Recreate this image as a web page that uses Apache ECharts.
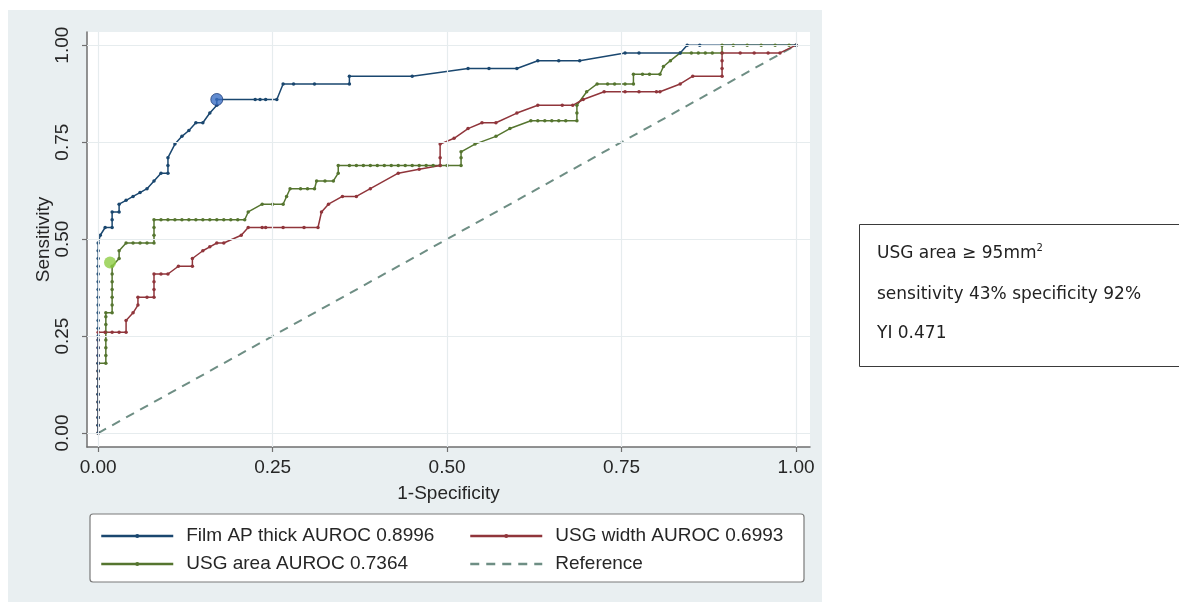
<!DOCTYPE html>
<html>
<head>
<meta charset="utf-8">
<script src="https://cdn.jsdelivr.net/npm/echarts@6/dist/echarts.min.js"></script>
<style>
  html, body { margin: 0; padding: 0; background: #ffffff; }
  #chart { width: 1179px; height: 605px; }
</style>
</head>
<body>
<div id="chart"></div>
<script>
// ROC curves: [1 - specificity, sensitivity]
const filmApThick = [
  [0,0],[0,0.02],[0,0.04],[0,0.06],[0,0.08],[0,0.10],[0,0.12],[0,0.14],[0,0.16],[0,0.18],[0,0.20],[0,0.22],[0,0.24],
  [0,0.25],[0,0.27],[0,0.29],[0,0.31],[0,0.33],[0,0.35],[0,0.37],[0,0.39],[0,0.41],[0,0.43],[0,0.45],[0,0.47],[0,0.49],
  [0.003,0.51],[0.01,0.53],[0.02,0.53],[0.02,0.55],[0.02,0.57],[0.03,0.57],[0.03,0.59],[0.04,0.60],[0.05,0.61],
  [0.06,0.62],[0.07,0.63],[0.08,0.65],[0.09,0.67],[0.10,0.67],[0.10,0.69],[0.10,0.71],[0.11,0.745],[0.12,0.765],
  [0.13,0.78],[0.14,0.80],[0.15,0.80],[0.16,0.825],[0.17,0.845],[0.17,0.86],
  [0.225,0.86],[0.232,0.86],[0.24,0.86],[0.256,0.86],[0.265,0.90],[0.28,0.90],[0.31,0.90],[0.36,0.90],[0.36,0.92],
  [0.45,0.92],[0.53,0.94],[0.56,0.94],[0.60,0.94],[0.63,0.96],[0.66,0.96],[0.69,0.96],[0.755,0.98],[0.775,0.98],
  [0.834,0.98],[0.844,1],[0.862,1],[1,1]
];

const usgWidth = [
  [0,0],[0,0.02],[0,0.04],[0,0.06],[0,0.08],[0,0.10],[0,0.12],[0,0.14],[0,0.16],[0,0.18],[0,0.20],[0,0.22],[0,0.24],[0,0.26],
  [0.01,0.26],[0.02,0.26],[0.03,0.26],[0.04,0.26],[0.04,0.29],[0.05,0.31],[0.057,0.33],[0.057,0.35],[0.07,0.35],
  [0.08,0.35],[0.08,0.37],[0.08,0.39],[0.08,0.41],[0.09,0.41],[0.10,0.41],[0.115,0.43],[0.135,0.43],[0.135,0.45],
  [0.15,0.47],[0.16,0.48],[0.17,0.49],[0.18,0.49],[0.205,0.51],[0.215,0.53],[0.235,0.53],[0.24,0.53],[0.265,0.53],
  [0.295,0.53],[0.315,0.53],[0.32,0.57],[0.33,0.59],[0.35,0.61],[0.37,0.61],[0.39,0.63],[0.43,0.67],[0.46,0.68],
  [0.49,0.69],[0.49,0.71],[0.49,0.745],[0.51,0.76],[0.53,0.785],[0.55,0.80],[0.57,0.80],[0.60,0.825],[0.63,0.845],
  [0.665,0.845],[0.68,0.845],[0.695,0.86],[0.725,0.88],[0.755,0.88],[0.775,0.88],[0.80,0.88],[0.805,0.88],
  [0.834,0.90],[0.852,0.92],[0.894,0.92],[0.894,0.94],[0.894,0.96],[0.894,0.98],[0.92,0.98],[0.94,0.98],
  [0.96,0.98],[0.977,0.98],[1,1]
];

const usgArea = [
  [0,0],[0,0.02],[0,0.04],[0,0.06],[0,0.08],[0,0.10],[0,0.12],[0,0.14],[0,0.16],[0,0.18],
  [0.011,0.18],[0.011,0.20],[0.011,0.22],[0.011,0.24],[0.011,0.26],[0.011,0.28],[0.011,0.30],[0.011,0.31],
  [0.02,0.31],[0.02,0.33],[0.02,0.35],[0.02,0.37],[0.02,0.39],[0.02,0.41],[0.02,0.43],
  [0.03,0.45],[0.03,0.47],[0.04,0.49],[0.05,0.49],[0.06,0.49],[0.07,0.49],[0.08,0.49],[0.08,0.51],[0.08,0.53],[0.08,0.55],
  [0.09,0.55],[0.10,0.55],[0.11,0.55],[0.12,0.55],[0.13,0.55],[0.14,0.55],[0.15,0.55],[0.16,0.55],[0.17,0.55],
  [0.18,0.55],[0.19,0.55],[0.20,0.55],[0.21,0.55],
  [0.215,0.57],[0.235,0.59],[0.25,0.59],[0.265,0.59],[0.27,0.61],[0.275,0.63],[0.29,0.63],[0.30,0.63],[0.31,0.63],
  [0.313,0.65],[0.325,0.65],[0.337,0.65],[0.344,0.67],[0.344,0.69],
  [0.36,0.69],[0.37,0.69],[0.38,0.69],[0.39,0.69],[0.40,0.69],[0.41,0.69],[0.42,0.69],[0.43,0.69],[0.44,0.69],
  [0.45,0.69],[0.46,0.69],[0.47,0.69],[0.48,0.69],[0.49,0.69],[0.50,0.69],[0.52,0.69],
  [0.52,0.71],[0.52,0.725],[0.54,0.745],[0.57,0.765],[0.59,0.785],[0.62,0.805],
  [0.63,0.805],[0.64,0.805],[0.65,0.805],[0.66,0.805],[0.67,0.805],[0.686,0.805],[0.686,0.825],[0.686,0.845],
  [0.70,0.88],[0.715,0.90],[0.73,0.90],[0.74,0.90],[0.755,0.90],[0.767,0.90],[0.767,0.925],[0.78,0.925],
  [0.79,0.925],[0.805,0.925],[0.81,0.945],[0.82,0.96],[0.834,0.98],
  [0.85,0.98],[0.86,0.98],[0.87,0.98],[0.88,0.98],[0.894,0.98],[0.894,1],[0.91,1],[0.93,1],[0.95,1],[0.97,1],
  [0.99,1],[1,1]
];

const referenceLine = [[0,0],[1,1]];

// Optimal cut-off points
const filmOptimal = [[0.17, 0.86]];
const areaOptimal = [[0.017, 0.44]];

const axisTicks = [0, 0.25, 0.5, 0.75, 1];

const seriesNames = [
  'Film AP thick AUROC 0.8996',
  'USG width AUROC 0.6993',
  'USG area AUROC 0.7364',
  'Reference'
];

const noteLines = ['USG area ≥ 95mm', 'sensitivity 43% specificity 92%', 'YI 0.471'];

const FONT = '"Liberation Sans", Arial, Helvetica, sans-serif';
const NOTE_FONT = '"DejaVu Sans", "Noto Sans", sans-serif';
const NAVY = '#1a476f', MAROON = '#90353b', FOREST = '#55752f', TEAL = '#6e8e84';
const AXIS_COLOR = '#6f6f6f', TEXT_COLOR = '#262626', GRID_COLOR = '#e6ecee';

function rocSeries(name, data, color) {
  return {
    name, type: 'line', data, z: 4,
    symbol: 'circle', symbolSize: 3.5, showSymbol: true,
    lineStyle: { color, width: 1.5 },
    itemStyle: { color },
    emphasis: { disabled: true },
    silent: true
  };
}

const chart = echarts.init(document.getElementById('chart'), null, { renderer: 'canvas' });

const legendText = { fontSize: 19, color: TEXT_COLOR, fontFamily: FONT, lineHeight: 20, padding: [0, 0, 0, 8] };
const legendCommon = {
  orient: 'vertical', top: 526, itemWidth: 72, itemHeight: 5, itemGap: 8,
  selectedMode: false, textStyle: legendText, lineStyle: { width: 2.5 }, padding: 0
};

chart.setOption({
  animation: false,
  backgroundColor: '#ffffff',
  graphic: {
    elements: [
      { type: 'rect', z: -20, shape: { x: 8, y: 10, width: 814, height: 592 }, style: { fill: '#e9eff1' } },
      { type: 'rect', z: -10, shape: { x: 90, y: 514, width: 714, height: 68, r: 3 },
        style: { fill: '#ffffff', stroke: '#7a7a7a', lineWidth: 1.2 } },
      { type: 'rect', z: 1, shape: { x: 859.5, y: 224.5, width: 340, height: 142 },
        style: { fill: '#ffffff', stroke: '#3a3a3a', lineWidth: 1 } },
      { type: 'text', z: 2, x: 877, y: 254,
        style: { text: '{a|' + noteLines[0] + '}{s|2}', verticalAlign: 'middle',
          rich: { a: { fontSize: 17, fontFamily: NOTE_FONT, fill: '#222' },
                  s: { fontSize: 10, fontFamily: NOTE_FONT, fill: '#222', padding: [0, 0, 11, 0] } } } },
      { type: 'text', z: 2, x: 877, y: 295,
        style: { text: noteLines[1], font: '17px ' + NOTE_FONT, fill: '#222', verticalAlign: 'middle' } },
      { type: 'text', z: 2, x: 877, y: 334,
        style: { text: noteLines[2], font: '17px ' + NOTE_FONT, fill: '#222', verticalAlign: 'middle' } }
    ]
  },
  grid: {
    left: 87, top: 32, width: 723, height: 415,
    show: true, backgroundColor: '#ffffff', borderWidth: 0
  },
  legend: [
    Object.assign({ left: 100, data: [seriesNames[0], seriesNames[2]] }, legendCommon),
    Object.assign({ left: 469, data: [seriesNames[1], { name: seriesNames[3], itemStyle: { opacity: 0 } }] }, legendCommon)
  ],
  xAxis: {
    type: 'value', min: -0.016, max: 1.02,
    name: '1-Specificity', nameLocation: 'middle', nameGap: 37, nameMoveOverlap: false,
    nameTextStyle: { fontSize: 19, color: TEXT_COLOR, fontFamily: FONT },
    axisLine: { show: true, onZero: false, lineStyle: { color: AXIS_COLOR, width: 1.5 } },
    axisTick: { show: true, customValues: axisTicks, length: 5, lineStyle: { color: AXIS_COLOR, width: 1.2 } },
    axisLabel: { customValues: axisTicks, formatter: v => v.toFixed(2), fontSize: 19,
      color: TEXT_COLOR, fontFamily: FONT, margin: 11 },
    splitLine: { show: false }
  },
  yAxis: {
    type: 'value', min: -0.036, max: 1.034,
    name: 'Sensitivity', nameLocation: 'middle', nameGap: 34, nameRotate: 90, nameMoveOverlap: false,
    nameTextStyle: { fontSize: 19, color: TEXT_COLOR, fontFamily: FONT },
    axisLine: { show: true, onZero: false, lineStyle: { color: AXIS_COLOR, width: 1.5 } },
    axisTick: { show: true, customValues: axisTicks, length: 5, lineStyle: { color: AXIS_COLOR, width: 1.2 } },
    axisLabel: { customValues: axisTicks, formatter: v => v.toFixed(2), fontSize: 19, rotate: 90,
      color: TEXT_COLOR, fontFamily: FONT, margin: 15 },
    splitLine: { show: false }
  },
  series: [
    {
      name: 'gridlines', type: 'line', data: [], z: 1, silent: true,
      markLine: {
        silent: true, symbol: 'none', label: { show: false }, animation: false,
        lineStyle: { color: GRID_COLOR, type: 'solid', width: 1.2 },
        emphasis: { disabled: true },
        data: axisTicks.map(t => ({ xAxis: t })).concat(axisTicks.map(t => ({ yAxis: t })))
      }
    },
    {
      name: seriesNames[3], type: 'line', data: referenceLine, z: 2,
      symbol: 'none', showSymbol: false, silent: true,
      lineStyle: { color: TEAL, width: 2, type: [9, 7] },
      itemStyle: { color: TEAL }
    },
    rocSeries(seriesNames[2], usgArea, FOREST),
    rocSeries(seriesNames[1], usgWidth, MAROON),
    rocSeries(seriesNames[0], filmApThick, NAVY),
    {
      name: 'film optimal', type: 'scatter', data: filmOptimal, z: 6, silent: true,
      symbolSize: 12, itemStyle: { color: '#3b6fc4', borderColor: '#1f3f7a', borderWidth: 1 }
    },
    {
      name: 'area optimal', type: 'scatter', data: areaOptimal, z: 6, silent: true,
      symbolSize: 12, itemStyle: { color: '#8fcd45' }
    }
  ]
});
</script>
</body>
</html>
